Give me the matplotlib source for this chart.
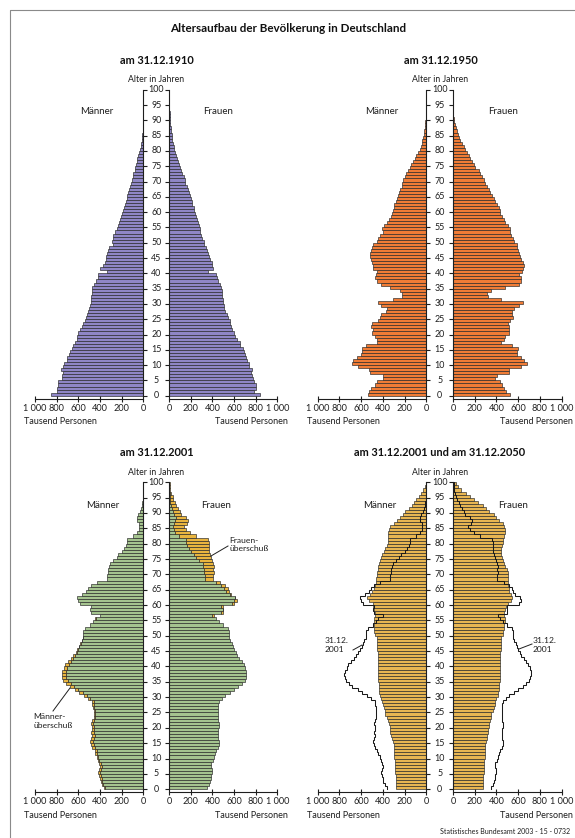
import matplotlib
matplotlib.use("Agg")
import matplotlib.pyplot as plt
import numpy as np
from matplotlib.transforms import blended_transform_factory as btf

plt.rcParams['font.family'] = ['Lato', 'DejaVu Sans']

# ---------------- data (thousands of persons, ages 0..99) ----------------
ages = np.arange(100)

m_1910 = [852, 794, 800, 785, 785, 751, 754, 738, 760, 738,
          729, 708, 702, 683, 677, 662, 652, 631, 615, 609,
          600, 585, 569, 560, 538, 529, 523, 508, 502, 492,
          486, 483, 483, 477, 477, 477, 455, 437, 415, 415,
          338, 400, 375, 354, 348, 345, 332, 323, 314, 283,
          292, 283, 277, 262, 246, 231, 225, 215, 209, 200,
          191, 178, 169, 160, 154, 148, 142, 129, 123, 117,
          105, 98, 92, 80, 74, 68, 62, 55, 46, 37,
          31, 25, 18, 15, 12, 9, 6, 4, 3, 2,
          1, 1, 0, 0, 0, 0, 0, 0, 0, 0]
f_1910 = [839, 783, 805, 799, 783, 774, 762, 759, 762, 740,
          734, 721, 709, 697, 690, 684, 659, 653, 628, 613,
          598, 585, 573, 567, 560, 548, 536, 520, 511, 505,
          498, 495, 492, 489, 486, 480, 467, 449, 443, 437,
          356, 406, 399, 396, 375, 368, 356, 350, 337, 319,
          319, 307, 297, 288, 288, 276, 263, 257, 251, 241,
          226, 232, 214, 211, 201, 189, 180, 173, 164, 149,
          142, 133, 121, 108, 102, 90, 84, 71, 65, 56,
          46, 40, 34, 28, 25, 22, 19, 15, 12, 10,
          8, 6, 3, 0, 0, 0, 0, 0, 0, 0]

m_1950 = [535, 526, 514, 474, 453, 398, 398, 520, 526, 627,
          688, 679, 636, 605, 596, 596, 557, 459, 459, 474,
          505, 495, 514, 505, 443, 428, 422, 373, 367, 422,
          443, 306, 229, 220, 245, 336, 422, 459, 474, 465,
          459, 489, 495, 505, 514, 520, 520, 514, 505, 489,
          459, 443, 428, 398, 413, 391, 361, 343, 330, 312,
          306, 300, 294, 284, 275, 260, 251, 239, 229, 220,
          214, 199, 190, 168, 153, 138, 122, 107, 92, 76,
          61, 52, 43, 37, 31, 24, 18, 15, 12, 9,
          6, 0, 0, 0, 0, 0, 0, 0, 0, 0]
f_1950 = [523, 492, 474, 452, 431, 391, 406, 514, 514, 622,
          677, 658, 622, 591, 591, 597, 545, 443, 468, 483,
          514, 514, 514, 505, 529, 554, 545, 545, 560, 606,
          646, 443, 320, 314, 351, 483, 606, 622, 628, 606,
          637, 646, 652, 646, 622, 615, 609, 597, 591, 585,
          560, 554, 535, 523, 523, 505, 483, 468, 452, 437,
          431, 422, 406, 391, 382, 360, 345, 329, 314, 298,
          283, 268, 252, 237, 206, 191, 175, 160, 145, 129,
          114, 98, 83, 68, 55, 43, 34, 25, 18, 12,
          6, 0, 0, 0, 0, 0, 0, 0, 0, 0]

m_2001 = [360, 380, 395, 400, 405, 415, 410, 400, 405, 420,
          430, 445, 450, 470, 480, 490, 480, 475, 480, 475,
          470, 480, 470, 460, 460, 460, 465, 470, 475, 510,
          545, 590, 630, 680, 710, 740, 750, 755, 750, 735,
          720, 695, 670, 645, 625, 610, 595, 585, 570, 560,
          555, 555, 540, 495, 465, 445, 400, 480, 495, 480,
          585, 600, 610, 565, 530, 510, 480, 430, 335, 335,
          325, 325, 315, 310, 280, 248, 232, 200, 180, 162,
          155, 155, 95, 58, 40, 38, 40, 57, 62, 48,
          32, 26, 17, 11, 8, 5, 3, 2, 1, 1]
f_2001 = [352, 370, 380, 385, 390, 400, 395, 385, 390, 405,
          415, 425, 430, 450, 460, 465, 455, 450, 455, 455,
          460, 465, 455, 450, 450, 450, 455, 455, 460, 490,
          520, 560, 600, 640, 670, 700, 710, 715, 715, 705,
          690, 670, 650, 630, 615, 600, 590, 580, 565, 555,
          555, 555, 540, 495, 465, 436, 410, 495, 497, 497,
          604, 626, 613, 574, 552, 543, 512, 466, 405, 405,
          411, 405, 411, 405, 399, 390, 374, 368, 368, 368,
          368, 359, 252, 190, 153, 135, 166, 175, 160, 113,
          98, 83, 67, 52, 37, 31, 21, 12, 9, 6]

m_2050 = [277, 277, 277, 277, 277, 286, 286, 286, 286, 286,
          295, 295, 295, 295, 295, 308, 317, 325, 332, 335,
          338, 348, 355, 363, 378, 385, 394, 400, 409, 420,
          431, 440, 440, 440, 440, 449, 449, 449, 449, 449,
          449, 449, 449, 449, 449, 455, 455, 455, 455, 455,
          471, 480, 480, 480, 486, 480, 471, 471, 486, 492,
          492, 532, 542, 523, 502, 486, 471, 462, 462, 455,
          455, 449, 449, 440, 431, 418, 409, 394, 378, 363,
          357, 357, 357, 355, 345, 332, 302, 271, 240, 215,
          194, 163, 132, 111, 92, 71, 49, 31, 15, 6]
f_2050 = [275, 275, 275, 275, 275, 290, 290, 290, 290, 290,
          297, 297, 297, 297, 297, 306, 310, 314, 318, 321,
          330, 336, 342, 347, 352, 367, 375, 383, 390, 398,
          413, 417, 421, 425, 428, 434, 434, 434, 434, 434,
          434, 434, 434, 434, 434, 443, 443, 443, 443, 443,
          459, 465, 470, 474, 483, 483, 474, 474, 483, 489,
          505, 535, 544, 535, 520, 514, 505, 505, 505, 505,
          505, 495, 483, 474, 459, 453, 443, 443, 443, 453,
          459, 465, 474, 483, 483, 474, 459, 428, 398, 373,
          336, 306, 275, 229, 190, 153, 116, 76, 46, 24]

xticks = [0, 200, 400, 600, 800, 1000]
xtick_labels = ["0", "200", "400", "600", "800", "1 000"]
age_ticks = list(range(0, 101, 5))

title = "Altersaufbau der Bevölkerung in Deutschland"
subtitles = ["am 31.12.1910", "am 31.12.1950", "am 31.12.2001",
             "am 31.12.2001 und am 31.12.2050"]

# ---------------- layout (pixels) ----------------
W, H = 575, 838
fig = plt.figure(figsize=(W / 100, H / 100), dpi=100)
fig.patch.set_facecolor("white")

INK = "#1e1e1e"
EDGE = "#262626"
colA = ((35.0, 143.4), (169.2, 277.3))
colB = ((317.7, 426.4), (453.0, 561.6))
rowT = (89.7, 398.8)
rowB = (482.3, 792.3)

FS_TICK = 6.6
FS_AGE = 6.4


def rect(x0, x1, ytop, ybot):
    return [x0 / W, 1 - ybot / H, (x1 - x0) / W, (ybot - ytop) / H]


def make_pair(col, row):
    (lx0, lx1), (rx0, rx1) = col
    ytop, ybot = row
    axL = fig.add_axes(rect(lx0, lx1, ytop, ybot))
    axR = fig.add_axes(rect(rx0, rx1, ytop, ybot))
    axL.set_xlim(1000, 0)
    axR.set_xlim(0, 1000)
    for ax in (axL, axR):
        ax.set_ylim(-1, 100)
        ax.patch.set_alpha(0)
        ax.spines['top'].set_visible(False)
        ax.spines['bottom'].set_bounds(0, 1000)
        ax.spines['bottom'].set_color(INK)
        ax.spines['bottom'].set_linewidth(0.8)
        ax.set_xticks(xticks)
        ax.set_xticklabels(xtick_labels, fontsize=FS_TICK, color=INK)
        ax.tick_params(axis='x', direction='inout', length=5, width=0.8,
                       pad=1.0, colors=INK)
        ax.set_yticks(age_ticks)
    axL.spines['left'].set_visible(False)
    axL.spines['right'].set_bounds(0, 100)
    axL.spines['right'].set_color(INK)
    axL.spines['right'].set_linewidth(0.8)
    axL.yaxis.tick_right()
    axR.spines['right'].set_visible(False)
    axR.spines['left'].set_bounds(0, 100)
    axR.spines['left'].set_color(INK)
    axR.spines['left'].set_linewidth(0.8)
    axR.yaxis.tick_left()
    for ax in (axL, axR):
        ax.tick_params(axis='y', direction='out', length=2.6, width=0.8,
                       colors=INK, labelleft=False, labelright=False)
    # centre age labels
    cx = (lx1 + rx0) / 2 / W
    tr = btf(fig.transFigure, axL.transData)
    for a in age_ticks:
        axL.text(cx, a, str(a), transform=tr, ha='center', va='center',
                 fontsize=FS_AGE, color=INK, clip_on=False)
    # "Alter in Jahren"
    fig.text(cx, 1 - (ytop - 10) / H, "Alter in Jahren", ha='center',
             va='center', fontsize=6.3, color=INK)
    # "Tausend Personen"
    fig.text((lx0 - 11) / W, 1 - (ybot + 23) / H, "Tausend Personen",
             ha='left', va='center', fontsize=6.5, color=INK)
    fig.text((rx1 + 11) / W, 1 - (ybot + 23) / H, "Tausend Personen",
             ha='right', va='center', fontsize=6.5, color=INK)
    return axL, axR


def bars(ax, vals, color, left=None):
    ax.barh(ages, vals, height=1.0, align='edge', left=left, color=color,
            edgecolor=EDGE, linewidth=0.45)


# Panel 1: 1910
a1L, a1R = make_pair(colA, rowT)
purple = "#8f86c6"
bars(a1L, m_1910, purple)
bars(a1R, f_1910, purple)

# Panel 2: 1950
a2L, a2R = make_pair(colB, rowT)
orange = "#f07c36"
bars(a2L, m_1950, orange)
bars(a2R, f_1950, orange)

# Panel 3: 2001 with surplus
a3L, a3R = make_pair(colA, rowB)
green = "#a5c48f"
gold = "#e9b53f"
m01 = np.array(m_2001)
f01 = np.array(f_2001)
common = np.minimum(m01, f01)
bars(a3L, common, green)
bars(a3R, common, green)
m_sur = np.clip(m01 - f01, 0, None)
f_sur = np.clip(f01 - m01, 0, None)
sel = m_sur > 0
a3L.barh(ages[sel], m_sur[sel], left=common[sel], height=1.0, align='edge',
         color=gold, edgecolor=EDGE, linewidth=0.45)
sel = f_sur > 0
a3R.barh(ages[sel], f_sur[sel], left=common[sel], height=1.0, align='edge',
         color=gold, edgecolor=EDGE, linewidth=0.45)

# Panel 4: 2050 with 2001 outline
a4L, a4R = make_pair(colB, rowB)
gold2 = "#e8b652"
bars(a4L, m_2050, gold2)
bars(a4R, f_2050, gold2)


def outline(ax, vals):
    v = np.asarray(vals, dtype=float)
    xs = np.repeat(v, 2)
    ys = np.column_stack([ages, ages + 1]).ravel()
    xs = np.concatenate([xs, [0]])
    ys = np.concatenate([ys, [ys[-1]]])
    ax.plot(xs, ys, color="#1a1a1a", linewidth=0.75, solid_joinstyle='miter')


outline(a4L, m_2001)
outline(a4R, f_2001)


# ---------------- texts ----------------
def ftext(x, y, s, **kw):
    fig.text(x / W, 1 - y / H, s, **kw)


ftext(288, 28, title, ha='center', va='center', fontsize=8.4,
      fontweight='bold', color="#111111")
for (x, y, s) in [(157, 60, subtitles[0]), (441, 60, subtitles[1]),
                  (157, 452, subtitles[2]), (440, 452, subtitles[3])]:
    ftext(x, y, s, ha='center', va='center', fontsize=7.9,
          fontweight='bold', color="#111111")

for (x, y, s) in [(97, 111, "Männer"), (218, 111, "Frauen"),
                  (382, 111, "Männer"), (503, 111, "Frauen"),
                  (103, 505, "Männer"), (216, 505, "Frauen"),
                  (380, 505, "Männer"), (513, 505, "Frauen")]:
    ftext(x, y, s, ha='center', va='center', fontsize=7.0, color=INK)

# annotations
ann_kw = dict(ha='left', va='center', fontsize=6.1, color=INK,
              linespacing=1.2)
ftext(229, 544.5, "Frauen-\nüberschuß", **ann_kw)
ftext(33, 721, "Männer-\nüberschuß", **ann_kw)
ftext(325, 645, "31.12.\n2001", **ann_kw)
ftext(533, 645, "31.12.\n2001", **ann_kw)


def fline(x0, y0, x1, y1):
    fig.add_artist(plt.Line2D([x0 / W, x1 / W], [1 - y0 / H, 1 - y1 / H],
                              color=INK, linewidth=0.7,
                              transform=fig.transFigure))


fline(228, 546, 211, 556)
fline(53, 711, 70, 688)
fline(353, 650, 362, 645)
fline(532, 644, 519, 649)

ftext(570, 831, "Statistisches Bundesamt 2003 - 15 - 0732", ha='right',
      va='center', fontsize=5.0, color=INK)

# frame
fig.add_artist(plt.Line2D([10 / W, 10 / W, 1.0], [0.0, 1 - 10 / H, 1 - 10 / H],
                          color="#8a8a8a", linewidth=0.8,
                          transform=fig.transFigure))

fig.savefig("out.png", dpi=100, facecolor="white")
